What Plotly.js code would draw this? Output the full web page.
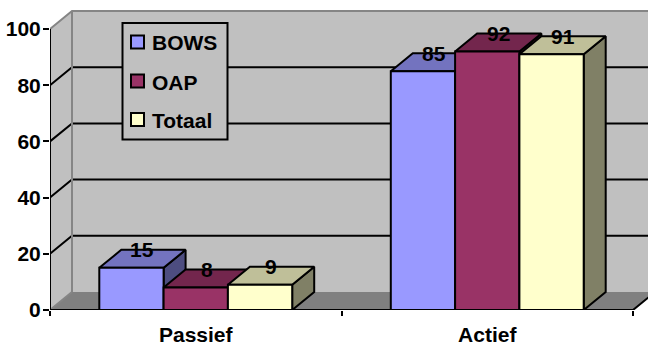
<!DOCTYPE html>
<html>
<head>
<meta charset="utf-8">
<script src="https://cdn.plot.ly/plotly-3.0.1.min.js"></script>
<style>
  html, body { margin: 0; padding: 0; background: #ffffff; }
  #chart { width: 648px; height: 345px; }
</style>
</head>
<body>
<div id="chart"></div>
<script>
// Categories, series and values
const categories = ['Passief', 'Actief'];
const seriesNames = ['BOWS', 'OAP', 'Totaal'];
const bows = [15, 85];
const oap = [8, 92];
const totaal = [9, 91];
const yTicks = [0, 20, 40, 60, 80, 100];

const seriesValues = [bows, oap, totaal];

// Face shades for each series: front, top (darker), side (darkest)
const faceColors = [
  { front: '#9999FF', top: '#7373BF', side: '#4D4D80' },
  { front: '#993366', top: '#73264D', side: '#4D1A33' },
  { front: '#FFFFCC', top: '#BFBF99', side: '#808066' }
];

const WALL = '#C0C0C0';
const FLOOR = '#808080';
const EDGE = '#858585';
const FONT = 'Arial, "Liberation Sans", sans-serif';
const LW = 2;

// Plot area geometry (pixels) and scale factors
const W = 648, H = 345;
const plotL = 50, plotR = 648, plotT = 0, plotB = 310;
const pxPerCat = 291.5;          // pixels per category unit on x
const pxPerVal = 2.81;           // pixels per value unit on y
const xMin = -0.5, xMax = xMin + (plotR - plotL) / pxPerCat;
const yMax = (plotB - plotT) / pxPerVal;

// Oblique depth offset of the 3D box, expressed in axis units
const dX = 22 / pxPerCat;
const dY = 18 / pxPerVal;
const barW = 64.3 / pxPerCat;
const nS = seriesNames.length;
const catL = xMin, catR = xMin + categories.length;   // front floor edge extent
const backL = catL + dX, backR = catR + dX;

const traces = [];
function poly(xs, ys, fill, lineColor, lineWidth) {
  traces.push({
    type: 'scatter', mode: 'lines', x: xs, y: ys,
    fill: fill ? 'toself' : 'none', fillcolor: fill || undefined,
    line: { color: lineColor || '#000', width: lineWidth == null ? LW : lineWidth },
    hoverinfo: 'skip', showlegend: false
  });
}

// Side wall, back wall and floor
poly([catL, backL, backL, catL, catL], [0, dY, 100 + dY, 100, 0], WALL, WALL, 0);
poly([backL, backR, backR, backL, backL], [dY, dY, 100 + dY, 100 + dY, dY], WALL, WALL, 0);
poly([catL, catR, backR, backL, catL], [0, 0, dY, dY, 0], FLOOR, FLOOR, 0);

// Gridlines: front tick -> back wall corner -> across the wall
yTicks.filter(v => v > 0 && v < 100).forEach(v => {
  poly([catL, backL, backR], [v, v + dY, v + dY], null, '#000', LW);
});

// Wall edges
poly([catL, backL, backR], [100, 100 + dY, 100 + dY], null, EDGE, LW);
poly([backL, backL], [dY, 100 + dY], null, EDGE, LW);
poly([catL, backL], [0, dY], null, EDGE, LW);

// 3D bars, drawn left to right so each front face covers the neighbour's side
categories.forEach((c, ci) => {
  for (let s = 0; s < nS; s++) {
    const v = seriesValues[s][ci];
    const x0 = ci - (nS * barW) / 2 + s * barW;
    const x1 = x0 + barW;
    const col = faceColors[s];
    // side face
    poly([x1, x1 + dX, x1 + dX, x1, x1], [0, dY, v + dY, v, 0], col.side);
    // top face
    poly([x0, x1, x1 + dX, x0 + dX, x0], [v, v, v + dY, v + dY, v], col.top);
    // front face
    poly([x0, x1, x1, x0, x0], [0, 0, v, v, 0], col.front);
  }
});

// Value axis line and front floor edge
poly([catL, catL, catR, backR], [100, 0, 0, dY], null, '#000', LW);

// Value labels sitting on the back edge of each bar top
const annotations = [];
categories.forEach((c, ci) => {
  for (let s = 0; s < nS; s++) {
    const v = seriesValues[s][ci];
    const x0 = ci - (nS * barW) / 2 + s * barW;
    annotations.push({
      x: x0 + barW / 2 + dX / 2, y: v + dY, xref: 'x', yref: 'y',
      text: String(v), showarrow: false, xanchor: 'center', yanchor: 'middle',
      font: { family: FONT, size: 21, color: '#000', weight: 'bold' }
    });
  }
});

// Legend box built from the series names and colours
const px2x = px => (px - plotL) / (plotR - plotL);
const px2y = py => (plotB - py) / (plotB - plotT);
const shapes = [{
  type: 'rect', xref: 'paper', yref: 'paper', layer: 'above',
  x0: px2x(122.5), x1: px2x(227.5), y0: px2y(139.5), y1: px2y(23),
  fillcolor: WALL, line: { color: '#000', width: 2 }
}];
const legendRows = [42, 81, 119.5];
seriesNames.forEach((name, s) => {
  const cy = legendRows[s];
  shapes.push({
    type: 'rect', xref: 'paper', yref: 'paper', layer: 'above',
    x0: px2x(131), x1: px2x(144), y0: px2y(cy + 6.5), y1: px2y(cy - 6.5),
    fillcolor: faceColors[s].front, line: { color: '#000', width: 2 }
  });
  annotations.push({
    x: px2x(150), y: px2y(cy + 1), xref: 'paper', yref: 'paper',
    text: name, showarrow: false, xanchor: 'left', yanchor: 'middle',
    font: { family: FONT, size: 21, color: '#000', weight: 'bold' }
  });
});

const layout = {
  width: W, height: H,
  margin: { l: plotL, r: W - plotR, t: plotT, b: H - plotB, pad: 0 },
  paper_bgcolor: '#ffffff', plot_bgcolor: 'rgba(0,0,0,0)',
  showlegend: false,
  xaxis: {
    type: 'linear', range: [xMin, xMax], fixedrange: true,
    showgrid: false, zeroline: false, showline: false,
    tickmode: 'array', tickvals: categories.map((c, i) => i), ticktext: categories,
    ticks: '', ticklabelstandoff: 10,
    tickfont: { family: FONT, size: 21, color: '#000', weight: 'bold' },
    minor: {
      tickmode: 'array', tickvals: categories.map((c, i) => i + 0.5).concat([catL]),
      ticks: 'outside', ticklen: 5, tickwidth: LW, tickcolor: '#000', showgrid: false
    }
  },
  yaxis: {
    range: [0, yMax], fixedrange: true,
    showgrid: false, zeroline: false, showline: false,
    tickmode: 'array', tickvals: yTicks,
    ticks: 'outside', ticklen: 6, tickwidth: LW, tickcolor: '#000',
    ticklabelstandoff: -2,
    tickfont: { family: FONT, size: 21, color: '#000', weight: 'bold' }
  },
  shapes: shapes,
  annotations: annotations
};

Plotly.newPlot('chart', traces, layout, { staticPlot: true, displayModeBar: false });
</script>
</body>
</html>
